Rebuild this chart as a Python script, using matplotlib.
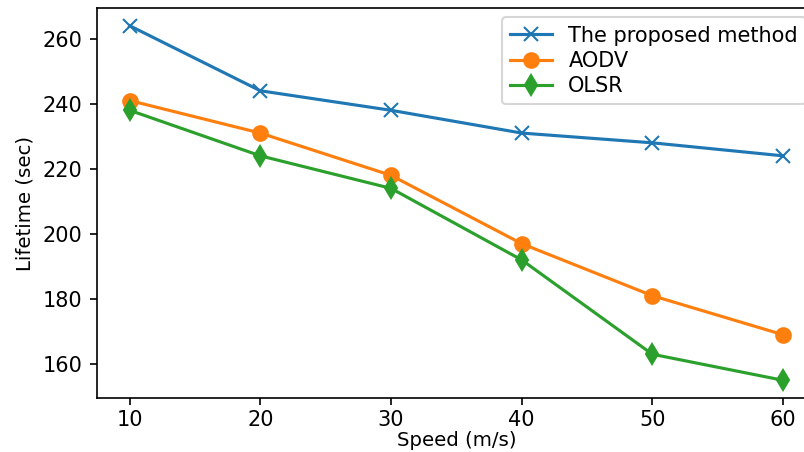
import matplotlib
matplotlib.use("Agg")
import matplotlib.pyplot as plt

speed = [10, 20, 30, 40, 50, 60]
proposed = [264, 244, 238, 231, 228, 224]
aodv = [241, 231, 218, 197, 181, 169]
olsr = [238, 224, 214, 192, 163, 155]

plt.rcParams['font.size'] = 9.5

fig = plt.figure(figsize=(805/150, 452/150), dpi=150)
ax = fig.add_axes([97/805, 1-398/452, (815.7-97)/805, (398-8)/452])
ax.plot(speed, proposed, marker='x', markersize=7, label='The proposed method')
ax.plot(speed, aodv, marker='o', markersize=7, label='AODV')
ax.plot(speed, olsr, marker='d', markersize=7, label='OLSR')
ax.set_xlabel('Speed (m/s)', labelpad=0)
ax.set_ylabel('Lifetime (sec)')
ax.set_yticks([160, 180, 200, 220, 240, 260])
ax.tick_params(labelsize=10)
ax.tick_params(axis='x', pad=2.5)
ax.legend(loc='upper right', fontsize=10, labelspacing=0.25, borderaxespad=0.45)
fig.savefig('out.png', dpi=150)
